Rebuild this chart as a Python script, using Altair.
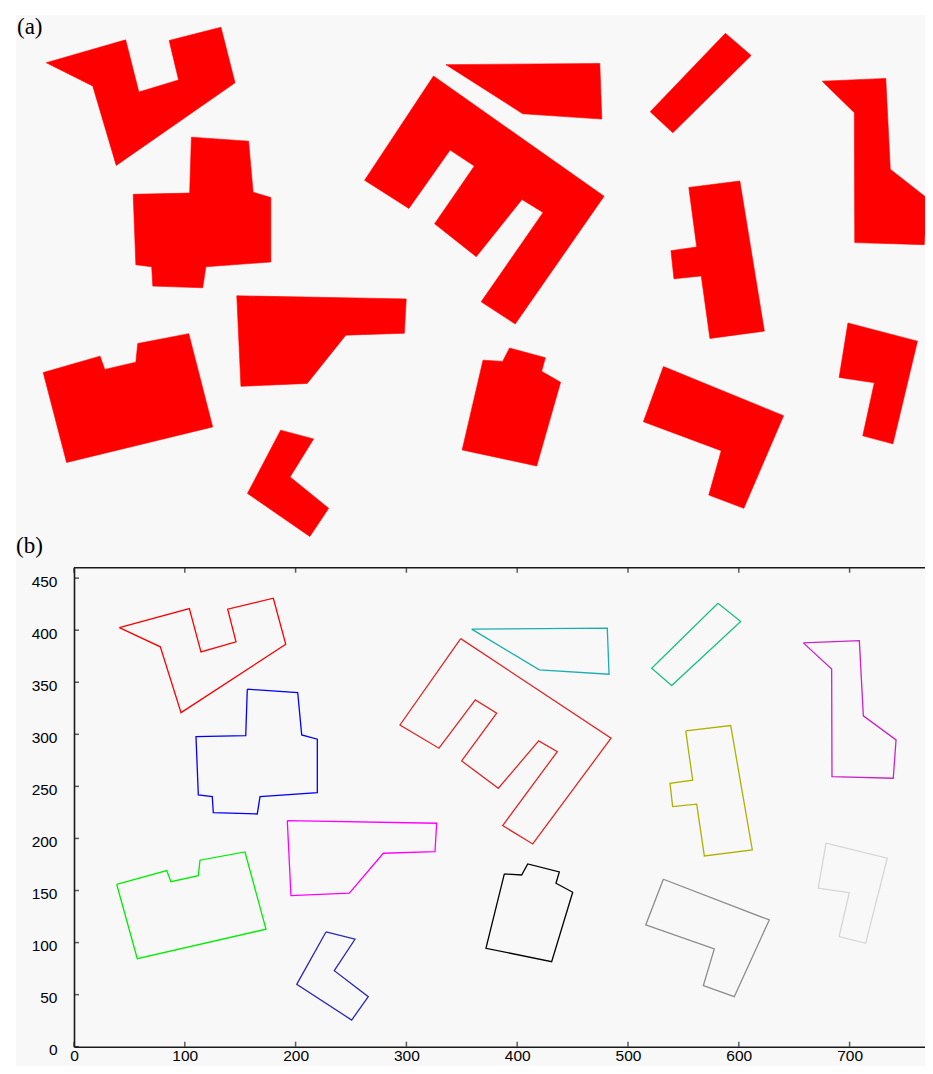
import altair as alt
import pandas as pd

# ---- building footprints (data units of panel b) ----
shape_names = ["s1", "s2", "s3", "s4", "s5", "s6", "s7", "s8", "s9", "s10", "s11", "s12", "s13"]
colors_b = ["#ff0000", "#0000ff", "#00ee00", "#ff00ff", "#2828b8", "#e02828", "#1aaeae",
            "#1ec08c", "#b0b000", "#cc22cc", "#000000", "#8c8c8c", "#d6d6d6"]

s1_x = [40.9, 104.1, 114.6, 146.2, 138.7, 179.9, 191.1, 96.6, 77.9]
s1_y = [402.5, 420.7, 379.2, 388.8, 420.2, 430.7, 386.5, 320.8, 384.0]
s2_x = [156.4, 201.9, 205.5, 219.6, 219.6, 167.9, 165.4, 125.7, 124.8, 112.2, 110.1, 155.0]
s2_y = [343.3, 340.1, 299.4, 295.3, 244.0, 240.2, 223.5, 224.8, 240.2, 241.8, 297.8, 298.8]
s3_x = [38.5, 83.7, 87.5, 112.2, 113.7, 154.3, 173.3, 57.1]
s3_y = [156.0, 169.1, 158.5, 164.3, 179.1, 187.0, 112.8, 84.5]
s4_x = [192.5, 327.3, 325.8, 279.2, 248.5, 195.8]
s4_y = [217.1, 214.6, 187.3, 185.8, 147.4, 145.1]
s5_x = [227.4, 253.6, 234.9, 265.6, 250.6, 201.0]
s5_y = [110.2, 103.2, 73.0, 48.0, 25.6, 59.9]
s6_x = [349.0, 484.7, 414.0, 386.9, 436.2, 419.4, 383.0, 349.9, 381.5, 362.2, 329.4, 294.2]
s6_y = [391.9, 296.3, 194.7, 212.3, 283.4, 293.7, 248.2, 274.4, 320.3, 333.0, 286.6, 309.0]
s7_x = [358.9, 481.3, 482.9, 420.0]
s7_y = [401.0, 401.9, 357.7, 361.9]
s8_x = [581.2, 601.7, 539.4, 521.4]
s8_y = [425.9, 408.3, 346.8, 363.5]
s9_x = [552.1, 592.7, 612.2, 568.9, 562.0, 540.3, 537.9, 558.4]
s9_y = [303.3, 308.4, 189.0, 183.2, 232.9, 230.6, 253.0, 255.9]
s10_x = [658.2, 708.8, 712.4, 741.9, 739.4, 684.1, 683.8]
s10_y = [387.8, 390.0, 317.7, 294.6, 257.8, 259.4, 362.8]
s11_x = [388.4, 404.0, 409.5, 438.0, 435.0, 450.1, 431.1, 371.8]
s11_y = [165.9, 164.9, 175.5, 167.8, 157.0, 148.3, 81.7, 94.5]
s12_x = [531.9, 627.5, 595.9, 568.0, 577.9, 516.0]
s12_y = [160.8, 121.7, 48.0, 58.6, 93.9, 116.9]
s13_x = [678.7, 734.0, 714.5, 690.5, 699.7, 671.7]
s13_y = [195.4, 181.0, 99.3, 105.7, 147.9, 152.2]

all_x = [s1_x, s2_x, s3_x, s4_x, s5_x, s6_x, s7_x, s8_x, s9_x, s10_x, s11_x, s12_x, s13_x]
all_y = [s1_y, s2_y, s3_y, s4_y, s5_y, s6_y, s7_y, s8_y, s9_y, s10_y, s11_y, s12_y, s13_y]

x_ticks = [0, 100, 200, 300, 400, 500, 600, 700]
y_ticks = [0, 50, 100, 150, 200, 250, 300, 350, 400, 450]

rows = []
for name, xs, ys in zip(shape_names, all_x, all_y):
    n = len(xs)
    for i in range(n + 1):
        rows.append({"shape": name, "i": i, "x": xs[i % n], "y": ys[i % n]})
df = pd.DataFrame(rows)

W, H = 851, 479
XB = [0, W / 1.108]
YB = [0, 460]
XA = [63.0, 63.0 + W / 1.257]
YA = [-380.27, 0.79]
BG = "#f8f8f8"
AX = "#1a1a1a"
FONT = "Liberation Sans"

sxB = alt.Scale(domain=XB, nice=False, zero=False)
syB = alt.Scale(domain=YB, nice=False, zero=False)

bg = alt.Chart(pd.DataFrame({"k": [0]})).mark_rect(color=BG).encode(
    x=alt.value(-58), x2=alt.value(W + 10), y=alt.value(-552.7), y2=alt.value(H + 40)
)

panel_a = alt.Chart(df).mark_line(filled=True, fill="#ff0000", stroke="#ff0000", strokeWidth=0.6).encode(
    x=alt.X("x:Q", scale=alt.Scale(domain=XA, nice=False, zero=False), axis=None),
    y=alt.Y("y:Q", scale=alt.Scale(domain=YA, nice=False, zero=False), axis=None),
    order="i:Q",
    detail="shape:N",
)

b_lines = alt.Chart(df).mark_line(strokeWidth=1.3).encode(
    x=alt.X("x:Q", scale=sxB, axis=alt.Axis(orient="bottom", values=x_ticks, ticks=False, tickSize=0,
            domainColor=AX, domainWidth=1.6, labelFont=FONT, labelFontSize=15.5, labelColor="#000",
            labelPadding=2, grid=False, title=None, zindex=1, labelFlush=False)),
    y=alt.Y("y:Q", scale=syB, axis=alt.Axis(orient="left", values=y_ticks, ticks=False, tickSize=0,
            domainColor=AX, domainWidth=1.6, labelFont=FONT, labelFontSize=15.5, labelColor="#000",
            labelPadding=17, labelOffset=3, grid=False, title=None, zindex=1, labelFlush=False)),
    color=alt.Color("shape:N", scale=alt.Scale(domain=shape_names, range=colors_b), legend=None),
    order="i:Q",
    detail="shape:N",
)

ytick = alt.Chart(pd.DataFrame({"v": y_ticks})).mark_tick(
    orient="horizontal", size=5, thickness=1.5, xOffset=2.5, color=AX
).encode(x=alt.datum(0), y=alt.Y("v:Q"))

xtick_bottom = alt.Chart(pd.DataFrame({"v": x_ticks})).mark_tick(
    orient="vertical", size=5, thickness=1.5, yOffset=-2.5, color=AX
).encode(x=alt.X("v:Q"), y=alt.datum(0))

xtick_top = alt.Chart(pd.DataFrame({"v": x_ticks})).mark_tick(
    orient="vertical", size=5, thickness=1.5, yOffset=2.5, color=AX
).encode(x=alt.X("v:Q"), y=alt.datum(460))

top_frame = alt.Chart(pd.DataFrame({"x0": [0], "x1": [XB[1]], "yy": [460]})).mark_rule(
    color=AX, strokeWidth=1.6
).encode(x="x0:Q", x2="x1:Q", y="yy:Q")

panel_b = alt.layer(b_lines, ytick, xtick_bottom, xtick_top, top_frame)

lab_a = alt.Chart(pd.DataFrame({"t": ["(a)"]})).mark_text(
    font="Liberation Serif", fontSize=23, align="left", baseline="alphabetic", color="#000"
).encode(text="t:N", x=alt.value(-57), y=alt.value(-533.7))

lab_b = alt.Chart(pd.DataFrame({"t": ["(b)"]})).mark_text(
    font="Liberation Serif", fontSize=23, align="left", baseline="alphabetic", color="#000"
).encode(text="t:N", x=alt.value(-58), y=alt.value(-14.7))

chart = alt.layer(bg, panel_a, panel_b, lab_a, lab_b).resolve_scale(
    x="independent", y="independent"
).properties(
    width=W, height=H,
    autosize=alt.AutoSizeParams(type="none"),
    padding={"left": 66, "top": 559.7, "right": 0, "bottom": 19.3},
    background="white",
).configure_view(stroke="transparent")

chart.save("out.html", embed_options={"renderer": "svg", "actions": False})
